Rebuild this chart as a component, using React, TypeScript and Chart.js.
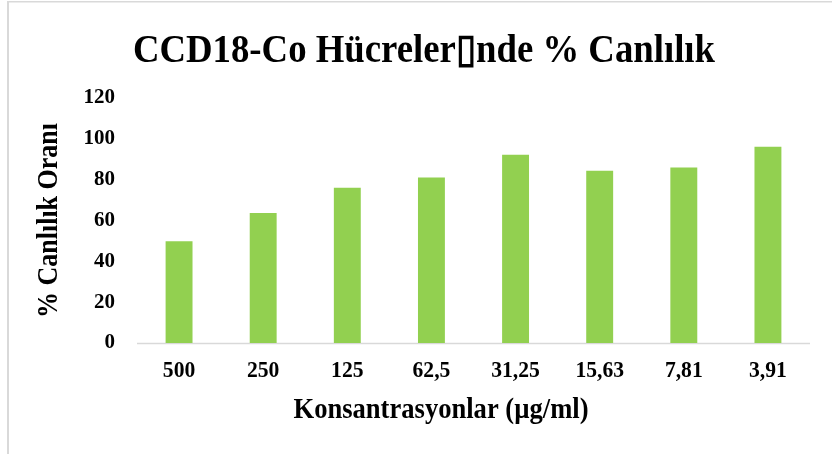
import React, { useEffect, useRef } from "react";
import { Chart, registerables } from "chart.js";

Chart.register(...registerables);

const TITLE = "CCD18-Co Hücreler\u25AFnde % Canlılık";
const X_TITLE = "Konsantrasyonlar (µg/ml)";
const Y_TITLE = "% Canlılık Oranı";
const CATEGORIES = ["500", "250", "125", "62,5", "31,25", "15,63", "7,81", "3,91"];
const VALUES = [49.8, 63.7, 76.1, 81.1, 92.2, 84.4, 86.0, 96.1];
const Y_MIN = 0;
const Y_MAX = 120;
const Y_STEP = 20;

const FONT = '"Liberation Serif", "Times New Roman", serif';

function drawText(
  ctx: CanvasRenderingContext2D,
  text: string,
  x: number,
  y: number,
  size: number,
  opts: { sx?: number; width?: number; align?: CanvasTextAlign; baseline?: CanvasTextBaseline; rot?: number } = {}
) {
  ctx.save();
  ctx.font = `bold ${size}px ${FONT}`;
  let sx = opts.sx ?? 1;
  if (opts.width) {
    const w = ctx.measureText(text).width;
    sx = opts.width / w;
  }
  ctx.translate(x, y);
  if (opts.rot) ctx.rotate(opts.rot);
  ctx.scale(sx, 1);
  ctx.textAlign = opts.align ?? "center";
  ctx.textBaseline = opts.baseline ?? "alphabetic";
  ctx.fillStyle = "#000000";
  ctx.fillText(text, 0, 0);
  ctx.restore();
}

const decorPlugin = {
  id: "decor",
  beforeDraw(chart: any) {
    const { ctx, width, height } = chart;
    ctx.save();
    ctx.fillStyle = "#ffffff";
    ctx.fillRect(0, 0, width, height);
    ctx.fillStyle = "#d9d9d9";
    ctx.fillRect(7, 1, 2, height);
    ctx.fillRect(7, 1, width, 1.5);
    ctx.restore();
  },
  beforeDatasetsDraw(chart: any) {
    const { ctx, chartArea: a } = chart;
    ctx.save();
    ctx.strokeStyle = "#d9d9d9";
    ctx.lineWidth = 1.5;
    ctx.beginPath();
    ctx.moveTo(a.left, a.bottom + 0.5);
    ctx.lineTo(a.right, a.bottom + 0.5);
    ctx.stroke();
    ctx.restore();
  },
  afterDraw(chart: any) {
    const { ctx, chartArea: a, scales } = chart;
    const x = scales.x;
    const y = scales.y;
    // y tick labels
    for (let v = Y_MIN; v <= Y_MAX; v += Y_STEP) {
      drawText(ctx, String(v), a.left - 22, y.getPixelForValue(v), 21, {
        align: "right",
        baseline: "middle",
      });
    }
    // x tick labels
    CATEGORIES.forEach((c, i) => {
      drawText(ctx, c, x.getPixelForValue(i), a.bottom + 28, 24, {
        sx: 0.9,
        align: "center",
        baseline: "middle",
      });
    });
    // title
    drawText(ctx, TITLE, 424, 62, 40, { width: 582 });
    // x title
    drawText(ctx, X_TITLE, 441, 418, 30, { width: 295 });
    // y title
    drawText(ctx, Y_TITLE, 56.5, (a.top + a.bottom) / 2, 29, {
      width: 195,
      rot: -Math.PI / 2,
    });
  },
};

export default function App() {
  const ref = useRef<HTMLCanvasElement | null>(null);
  useEffect(() => {
    if (!ref.current) return;
    const chart = new Chart(ref.current, {
      type: "bar",
      data: {
        labels: CATEGORIES,
        datasets: [
          {
            data: VALUES,
            backgroundColor: "#92D050",
            borderWidth: 0,
            categoryPercentage: 1,
            barPercentage: 0.32,
          },
        ],
      },
      options: {
        responsive: false,
        animation: false,
        layout: { padding: { top: 98, left: 137, right: 22, bottom: 111 } },
        plugins: {
          legend: { display: false },
          title: { display: false },
          tooltip: { enabled: false },
        },
        scales: {
          x: { display: false },
          y: { display: false, min: Y_MIN, max: Y_MAX, ticks: { stepSize: Y_STEP } },
        },
      },
      plugins: [decorPlugin],
    });
    return () => chart.destroy();
  }, []);
  return (
    <div style={{ position: "fixed", left: 0, top: 0, width: 832, height: 454, background: "#fff" }}>
      <canvas ref={ref} width={832} height={454} style={{ display: "block", width: 832, height: 454 }} />
    </div>
  );
}
